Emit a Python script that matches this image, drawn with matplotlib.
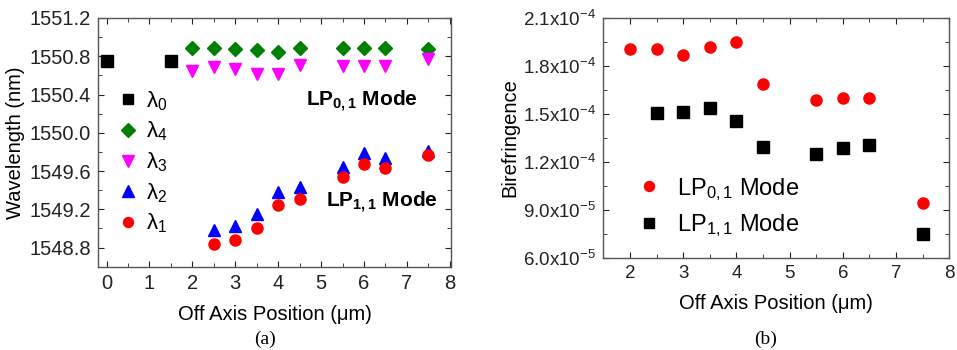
import numpy as np
import matplotlib.pyplot as plt
from matplotlib.ticker import MultipleLocator, FuncFormatter

plt.rcParams['font.family'] = ['Liberation Sans', 'DejaVu Sans']
plt.rcParams['mathtext.fontset'] = 'custom'
plt.rcParams['mathtext.rm'] = 'Liberation Sans'
plt.rcParams['mathtext.it'] = 'Liberation Sans:italic'
plt.rcParams['mathtext.bf'] = 'Liberation Sans:bold'

# panel (a) data: peak wavelengths vs off axis position
x_l0 = [0, 1.5]
l0 = [1550.754, 1550.754]
x_l34 = [2, 2.5, 3, 3.5, 4, 4.5, 5.5, 6, 6.5, 7.5]
l4 = [1550.883, 1550.883, 1550.876, 1550.866, 1550.845, 1550.883, 1550.883, 1550.883, 1550.883, 1550.876]
l3 = [1550.646, 1550.685, 1550.671, 1550.618, 1550.618, 1550.705, 1550.698, 1550.698, 1550.698, 1550.768]
x_l12 = [2.5, 3, 3.5, 4, 4.5, 5.5, 6, 6.5, 7.5]
l2 = [1548.98, 1549.03, 1549.15, 1549.38, 1549.43, 1549.64, 1549.79, 1549.74, 1549.81]
l1 = [1548.84, 1548.88, 1549.00, 1549.24, 1549.31, 1549.54, 1549.67, 1549.63, 1549.77]

# panel (b) data: birefringence
x_b01 = [2, 2.5, 3, 3.5, 4, 4.5, 5.5, 6, 6.5, 7.5]
b01 = [1.906e-4, 1.906e-4, 1.871e-4, 1.921e-4, 1.950e-4, 1.685e-4, 1.587e-4, 1.599e-4, 1.599e-4, 0.944e-4]
x_b11 = [2.5, 3, 3.5, 4, 4.5, 5.5, 6, 6.5, 7.5]
b11 = [1.508e-4, 1.512e-4, 1.539e-4, 1.453e-4, 1.291e-4, 1.249e-4, 1.286e-4, 1.305e-4, 0.746e-4]

fig = plt.figure(figsize=(9.57, 3.5), dpi=100)
ax1 = fig.add_axes([0.1024, 0.238, 0.369, 0.7106])
ax2 = fig.add_axes([0.6304, 0.2637, 0.3616, 0.6849])


def style_axes(ax, lsize):
    ax.tick_params(which='both', direction='in', top=True, right=True, labelsize=lsize, colors='#222222')
    ax.tick_params(which='major', length=4, pad=5)
    ax.tick_params(which='minor', length=3)
    for s in ax.spines.values():
        s.set_color('#555555')
        s.set_linewidth(1.0)


ms = 8
ax1.plot(x_l0, l0, 's', color='black', ms=ms, label='$\\mathregular{λ_0}$')
ax1.plot(x_l34, l4, 'D', color='#008000', ms=ms - 0.5, label='$\\mathregular{λ_4}$')
ax1.plot(x_l34, l3, 'v', color='#ff00ff', ms=ms + 1, label='$\\mathregular{λ_3}$')
ax1.plot(x_l12, l2, '^', color='#0000ff', ms=ms + 1, label='$\\mathregular{λ_2}$')
ax1.plot(x_l12, l1, 'o', color='#ff0000', ms=ms, label='$\\mathregular{λ_1}$')
ax1.set_xlim(-0.2, 8.03)
ax1.set_ylim(1548.6, 1551.2)
ax1.xaxis.set_major_locator(MultipleLocator(1))
ax1.xaxis.set_minor_locator(MultipleLocator(0.5))
ax1.yaxis.set_major_locator(MultipleLocator(0.4))
ax1.yaxis.set_minor_locator(MultipleLocator(0.2))
ax1.yaxis.set_major_formatter(FuncFormatter(lambda v, p: '%.1f' % v))
style_axes(ax1, 14.5)
ax1.set_xlabel('Off Axis Position (\u03bcm)', fontsize=14.5, labelpad=9)
ax1.set_ylabel('Wavelength (nm)', fontsize=14.5, labelpad=3)
ax1.legend(loc='upper left', bbox_to_anchor=(-0.015, 0.795), frameon=False, fontsize=16,
           handletextpad=0.1, labelspacing=0.32, markerscale=0.9, handlelength=1.4)
ax1.text(0.59, 0.665, 'LP$_{\\mathbf{0,1}}$ Mode', transform=ax1.transAxes, fontsize=15,
         fontweight='bold', va='center')
ax1.text(0.645, 0.26, 'LP$_{\\mathbf{1,1}}$ Mode', transform=ax1.transAxes, fontsize=15,
         fontweight='bold', va='center')
fig.text(0.277, 0.03, '(a)', fontsize=14, family='Liberation Serif', ha='center', va='center')

ax2.plot(x_b01, b01, 'o', color='#ff0000', ms=ms, label='LP$_{0,1}$ Mode')
ax2.plot(x_b11, b11, 's', color='black', ms=ms, label='LP$_{1,1}$ Mode')
ax2.set_xlim(1.5, 8)
ax2.set_ylim(6e-5, 2.1e-4)
ax2.xaxis.set_major_locator(MultipleLocator(1))
ax2.xaxis.set_minor_locator(MultipleLocator(0.5))
ax2.yaxis.set_major_locator(MultipleLocator(3e-5))
ax2.yaxis.set_minor_locator(MultipleLocator(1.5e-5))


def sci_fmt(v, p):
    if v == 0:
        return '0'
    e = int(np.floor(np.log10(abs(v)) + 1e-9))
    m = v / 10 ** e
    return '%.1fx10$^{%d}$' % (m, e)


ax2.yaxis.set_major_formatter(FuncFormatter(sci_fmt))
style_axes(ax2, 13.5)
ax2.set_xlabel('Off Axis Position (\u03bcm)', fontsize=14.5, labelpad=9)
ax2.set_ylabel('Birefringence', fontsize=14.5, labelpad=3)
ax2.legend(loc='lower left', bbox_to_anchor=(0.03, -0.01), frameon=False, fontsize=17,
           handletextpad=0.6, labelspacing=0.4, markerscale=0.9, handlelength=1.2)
fig.text(0.8, 0.03, '(b)', fontsize=14, family='Liberation Serif', ha='center', va='center')

fig.savefig('out.png', dpi=100)
